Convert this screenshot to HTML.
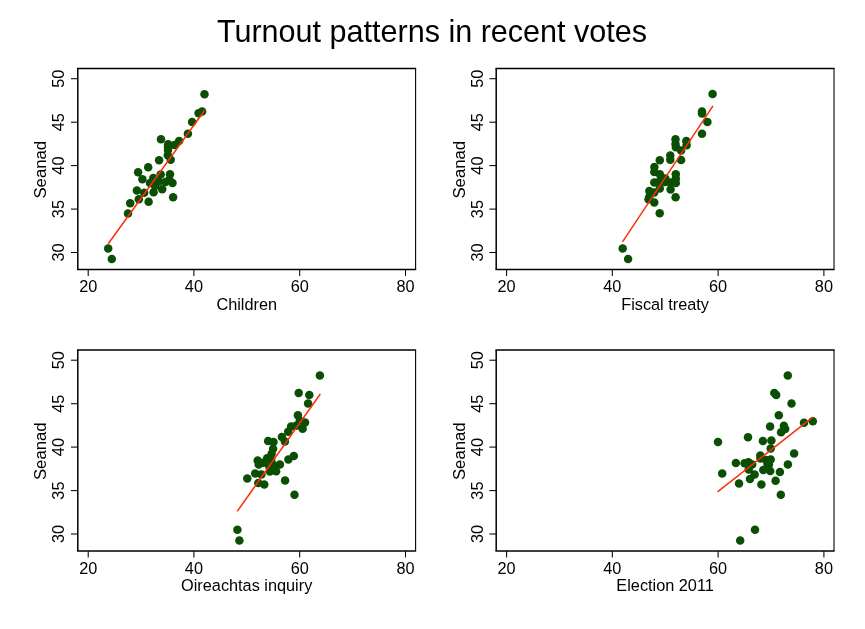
<!DOCTYPE html><html><head><meta charset="utf-8"><title>Turnout patterns in recent votes</title>
<style>html,body{margin:0;padding:0;background:#fff}svg{display:block}text{font-family:"Liberation Sans",Arial,Helvetica,sans-serif;fill:#000}</style></head><body>
<svg width="865" height="629" viewBox="0 0 865 629">
<rect width="865" height="629" fill="#fff"/>
<text x="432.0" y="41.6" font-size="30.55" text-anchor="middle">Turnout patterns in recent votes</text>
<g transform="translate(0,0)">
<circle cx="204.5" cy="94.2" r="4.25" fill="#0b4f05"/>
<circle cx="202.1" cy="111.5" r="4.25" fill="#0b4f05"/>
<circle cx="198.6" cy="113.3" r="4.25" fill="#0b4f05"/>
<circle cx="192.1" cy="122.1" r="4.25" fill="#0b4f05"/>
<circle cx="187.9" cy="133.8" r="4.25" fill="#0b4f05"/>
<circle cx="161.0" cy="139.2" r="4.25" fill="#0b4f05"/>
<circle cx="179.1" cy="140.9" r="4.25" fill="#0b4f05"/>
<circle cx="168.1" cy="144.2" r="4.25" fill="#0b4f05"/>
<circle cx="174.5" cy="144.9" r="4.25" fill="#0b4f05"/>
<circle cx="168.0" cy="147.0" r="4.25" fill="#0b4f05"/>
<circle cx="168.0" cy="150.1" r="4.25" fill="#0b4f05"/>
<circle cx="167.8" cy="155.3" r="4.25" fill="#0b4f05"/>
<circle cx="159.1" cy="160.3" r="4.25" fill="#0b4f05"/>
<circle cx="170.7" cy="159.8" r="4.25" fill="#0b4f05"/>
<circle cx="148.2" cy="167.2" r="4.25" fill="#0b4f05"/>
<circle cx="138.1" cy="172.2" r="4.25" fill="#0b4f05"/>
<circle cx="142.4" cy="179.3" r="4.25" fill="#0b4f05"/>
<circle cx="170.0" cy="174.2" r="4.25" fill="#0b4f05"/>
<circle cx="160.7" cy="174.4" r="4.25" fill="#0b4f05"/>
<circle cx="153.3" cy="178.1" r="4.25" fill="#0b4f05"/>
<circle cx="172.5" cy="183.1" r="4.25" fill="#0b4f05"/>
<circle cx="150.0" cy="182.9" r="4.25" fill="#0b4f05"/>
<circle cx="165.5" cy="182.0" r="4.25" fill="#0b4f05"/>
<circle cx="158.9" cy="181.6" r="4.25" fill="#0b4f05"/>
<circle cx="155.1" cy="185.9" r="4.25" fill="#0b4f05"/>
<circle cx="162.2" cy="189.3" r="4.25" fill="#0b4f05"/>
<circle cx="153.6" cy="192.2" r="4.25" fill="#0b4f05"/>
<circle cx="136.9" cy="190.4" r="4.25" fill="#0b4f05"/>
<circle cx="144.2" cy="192.7" r="4.25" fill="#0b4f05"/>
<circle cx="138.8" cy="199.3" r="4.25" fill="#0b4f05"/>
<circle cx="148.6" cy="201.7" r="4.25" fill="#0b4f05"/>
<circle cx="173.1" cy="197.2" r="4.25" fill="#0b4f05"/>
<circle cx="130.2" cy="203.3" r="4.25" fill="#0b4f05"/>
<circle cx="128.0" cy="213.4" r="4.25" fill="#0b4f05"/>
<circle cx="108.2" cy="248.4" r="4.25" fill="#0b4f05"/>
<circle cx="111.8" cy="259.0" r="4.25" fill="#0b4f05"/>
<circle cx="169.3" cy="179.8" r="4.25" fill="#0b4f05"/>
<line x1="108.2" y1="243.7" x2="204.7" y2="110.3" stroke="#fc2e0a" stroke-width="1.5"/>
<path d="M77.8 269.5V68.5" fill="none" stroke="#000" stroke-width="1.5"/>
<path d="M77.05 68.5H416.15000000000003M77.05 269.55H416.15000000000003" fill="none" stroke="#000" stroke-width="1.4"/>
<path d="M415.6 68.5V269.5" fill="none" stroke="#000" stroke-width="1.1"/>
<line x1="71.0" y1="252.5" x2="77.8" y2="252.5" stroke="#000" stroke-width="1.05"/>
<text transform="translate(64.1,252.5) rotate(-90)" font-size="16.3" text-anchor="middle">30</text>
<line x1="71.0" y1="209.1" x2="77.8" y2="209.1" stroke="#000" stroke-width="1.05"/>
<text transform="translate(64.1,209.1) rotate(-90)" font-size="16.3" text-anchor="middle">35</text>
<line x1="71.0" y1="165.6" x2="77.8" y2="165.6" stroke="#000" stroke-width="1.05"/>
<text transform="translate(64.1,165.6) rotate(-90)" font-size="16.3" text-anchor="middle">40</text>
<line x1="71.0" y1="122.2" x2="77.8" y2="122.2" stroke="#000" stroke-width="1.05"/>
<text transform="translate(64.1,122.2) rotate(-90)" font-size="16.3" text-anchor="middle">45</text>
<line x1="71.0" y1="78.7" x2="77.8" y2="78.7" stroke="#000" stroke-width="1.05"/>
<text transform="translate(64.1,78.7) rotate(-90)" font-size="16.3" text-anchor="middle">50</text>
<line x1="88.2" y1="269.5" x2="88.2" y2="275.9" stroke="#000" stroke-width="1.05"/>
<text x="88.2" y="292.35" font-size="16.3" text-anchor="middle">20</text>
<line x1="193.9" y1="269.5" x2="193.9" y2="275.9" stroke="#000" stroke-width="1.05"/>
<text x="193.9" y="292.35" font-size="16.3" text-anchor="middle">40</text>
<line x1="299.7" y1="269.5" x2="299.7" y2="275.9" stroke="#000" stroke-width="1.05"/>
<text x="299.7" y="292.35" font-size="16.3" text-anchor="middle">60</text>
<line x1="405.5" y1="269.5" x2="405.5" y2="275.9" stroke="#000" stroke-width="1.05"/>
<text x="405.5" y="292.35" font-size="16.3" text-anchor="middle">80</text>
<text transform="translate(46.199999999999996,169.7) rotate(-90)" font-size="16.75" text-anchor="middle">Seanad</text>
<text x="246.7" y="309.9" font-size="16.3" text-anchor="middle">Children</text>
</g>
<g transform="translate(418.4,0)">
<circle cx="294.2" cy="94.1" r="4.25" fill="#0b4f05"/>
<circle cx="283.6" cy="111.5" r="4.25" fill="#0b4f05"/>
<circle cx="283.6" cy="113.4" r="4.25" fill="#0b4f05"/>
<circle cx="289.0" cy="122.1" r="4.25" fill="#0b4f05"/>
<circle cx="283.6" cy="133.8" r="4.25" fill="#0b4f05"/>
<circle cx="257.1" cy="139.2" r="4.25" fill="#0b4f05"/>
<circle cx="267.9" cy="141.1" r="4.25" fill="#0b4f05"/>
<circle cx="257.1" cy="143.9" r="4.25" fill="#0b4f05"/>
<circle cx="257.5" cy="147.3" r="4.25" fill="#0b4f05"/>
<circle cx="268.2" cy="145.3" r="4.25" fill="#0b4f05"/>
<circle cx="262.7" cy="150.6" r="4.25" fill="#0b4f05"/>
<circle cx="251.9" cy="155.6" r="4.25" fill="#0b4f05"/>
<circle cx="251.9" cy="159.8" r="4.25" fill="#0b4f05"/>
<circle cx="262.7" cy="160.0" r="4.25" fill="#0b4f05"/>
<circle cx="241.4" cy="160.3" r="4.25" fill="#0b4f05"/>
<circle cx="236.0" cy="167.0" r="4.25" fill="#0b4f05"/>
<circle cx="235.9" cy="172.0" r="4.25" fill="#0b4f05"/>
<circle cx="241.4" cy="174.3" r="4.25" fill="#0b4f05"/>
<circle cx="257.4" cy="174.3" r="4.25" fill="#0b4f05"/>
<circle cx="246.9" cy="178.6" r="4.25" fill="#0b4f05"/>
<circle cx="235.9" cy="182.6" r="4.25" fill="#0b4f05"/>
<circle cx="241.4" cy="180.9" r="4.25" fill="#0b4f05"/>
<circle cx="251.9" cy="182.4" r="4.25" fill="#0b4f05"/>
<circle cx="257.4" cy="178.8" r="4.25" fill="#0b4f05"/>
<circle cx="257.4" cy="183.0" r="4.25" fill="#0b4f05"/>
<circle cx="252.2" cy="189.6" r="4.25" fill="#0b4f05"/>
<circle cx="241.4" cy="188.4" r="4.25" fill="#0b4f05"/>
<circle cx="231.0" cy="190.9" r="4.25" fill="#0b4f05"/>
<circle cx="235.8" cy="192.6" r="4.25" fill="#0b4f05"/>
<circle cx="231.0" cy="196.8" r="4.25" fill="#0b4f05"/>
<circle cx="257.2" cy="197.2" r="4.25" fill="#0b4f05"/>
<circle cx="230.1" cy="199.2" r="4.25" fill="#0b4f05"/>
<circle cx="235.9" cy="202.5" r="4.25" fill="#0b4f05"/>
<circle cx="241.3" cy="213.3" r="4.25" fill="#0b4f05"/>
<circle cx="204.3" cy="248.4" r="4.25" fill="#0b4f05"/>
<circle cx="209.7" cy="259.0" r="4.25" fill="#0b4f05"/>
<circle cx="246.7" cy="182.0" r="4.25" fill="#0b4f05"/>
<line x1="204.1" y1="241.85" x2="294.6" y2="105.8" stroke="#fc2e0a" stroke-width="1.5"/>
<path d="M77.8 269.5V68.5" fill="none" stroke="#000" stroke-width="1.5"/>
<path d="M77.05 68.5H416.15000000000003M77.05 269.55H416.15000000000003" fill="none" stroke="#000" stroke-width="1.4"/>
<path d="M415.6 68.5V269.5" fill="none" stroke="#000" stroke-width="1.1"/>
<line x1="71.0" y1="252.5" x2="77.8" y2="252.5" stroke="#000" stroke-width="1.05"/>
<text transform="translate(64.1,252.5) rotate(-90)" font-size="16.3" text-anchor="middle">30</text>
<line x1="71.0" y1="209.1" x2="77.8" y2="209.1" stroke="#000" stroke-width="1.05"/>
<text transform="translate(64.1,209.1) rotate(-90)" font-size="16.3" text-anchor="middle">35</text>
<line x1="71.0" y1="165.6" x2="77.8" y2="165.6" stroke="#000" stroke-width="1.05"/>
<text transform="translate(64.1,165.6) rotate(-90)" font-size="16.3" text-anchor="middle">40</text>
<line x1="71.0" y1="122.2" x2="77.8" y2="122.2" stroke="#000" stroke-width="1.05"/>
<text transform="translate(64.1,122.2) rotate(-90)" font-size="16.3" text-anchor="middle">45</text>
<line x1="71.0" y1="78.7" x2="77.8" y2="78.7" stroke="#000" stroke-width="1.05"/>
<text transform="translate(64.1,78.7) rotate(-90)" font-size="16.3" text-anchor="middle">50</text>
<line x1="88.2" y1="269.5" x2="88.2" y2="275.9" stroke="#000" stroke-width="1.05"/>
<text x="88.2" y="292.35" font-size="16.3" text-anchor="middle">20</text>
<line x1="193.9" y1="269.5" x2="193.9" y2="275.9" stroke="#000" stroke-width="1.05"/>
<text x="193.9" y="292.35" font-size="16.3" text-anchor="middle">40</text>
<line x1="299.7" y1="269.5" x2="299.7" y2="275.9" stroke="#000" stroke-width="1.05"/>
<text x="299.7" y="292.35" font-size="16.3" text-anchor="middle">60</text>
<line x1="405.5" y1="269.5" x2="405.5" y2="275.9" stroke="#000" stroke-width="1.05"/>
<text x="405.5" y="292.35" font-size="16.3" text-anchor="middle">80</text>
<text transform="translate(46.199999999999996,169.7) rotate(-90)" font-size="16.75" text-anchor="middle">Seanad</text>
<text x="246.7" y="309.9" font-size="16.3" text-anchor="middle">Fiscal treaty</text>
</g>
<g transform="translate(0,281.5)">
<circle cx="319.9" cy="94.1" r="4.25" fill="#0b4f05"/>
<circle cx="298.7" cy="111.6" r="4.25" fill="#0b4f05"/>
<circle cx="309.3" cy="113.4" r="4.25" fill="#0b4f05"/>
<circle cx="308.1" cy="122.1" r="4.25" fill="#0b4f05"/>
<circle cx="297.9" cy="133.8" r="4.25" fill="#0b4f05"/>
<circle cx="299.8" cy="139.2" r="4.25" fill="#0b4f05"/>
<circle cx="305.0" cy="141.1" r="4.25" fill="#0b4f05"/>
<circle cx="291.1" cy="144.9" r="4.25" fill="#0b4f05"/>
<circle cx="296.0" cy="144.2" r="4.25" fill="#0b4f05"/>
<circle cx="302.6" cy="147.3" r="4.25" fill="#0b4f05"/>
<circle cx="288.2" cy="150.3" r="4.25" fill="#0b4f05"/>
<circle cx="281.9" cy="155.5" r="4.25" fill="#0b4f05"/>
<circle cx="284.9" cy="159.9" r="4.25" fill="#0b4f05"/>
<circle cx="268.1" cy="159.5" r="4.25" fill="#0b4f05"/>
<circle cx="273.5" cy="160.4" r="4.25" fill="#0b4f05"/>
<circle cx="273.1" cy="167.2" r="4.25" fill="#0b4f05"/>
<circle cx="293.8" cy="174.4" r="4.25" fill="#0b4f05"/>
<circle cx="288.4" cy="178.1" r="4.25" fill="#0b4f05"/>
<circle cx="271.6" cy="172.3" r="4.25" fill="#0b4f05"/>
<circle cx="267.1" cy="176.7" r="4.25" fill="#0b4f05"/>
<circle cx="257.7" cy="179.1" r="4.25" fill="#0b4f05"/>
<circle cx="258.7" cy="183.1" r="4.25" fill="#0b4f05"/>
<circle cx="271.2" cy="178.7" r="4.25" fill="#0b4f05"/>
<circle cx="272.6" cy="182.9" r="4.25" fill="#0b4f05"/>
<circle cx="279.9" cy="182.9" r="4.25" fill="#0b4f05"/>
<circle cx="274.7" cy="186.3" r="4.25" fill="#0b4f05"/>
<circle cx="276.1" cy="189.7" r="4.25" fill="#0b4f05"/>
<circle cx="269.9" cy="190.1" r="4.25" fill="#0b4f05"/>
<circle cx="255.2" cy="191.9" r="4.25" fill="#0b4f05"/>
<circle cx="261.4" cy="192.9" r="4.25" fill="#0b4f05"/>
<circle cx="247.3" cy="196.9" r="4.25" fill="#0b4f05"/>
<circle cx="285.1" cy="198.9" r="4.25" fill="#0b4f05"/>
<circle cx="258.3" cy="201.6" r="4.25" fill="#0b4f05"/>
<circle cx="264.3" cy="203.0" r="4.25" fill="#0b4f05"/>
<circle cx="294.5" cy="213.2" r="4.25" fill="#0b4f05"/>
<circle cx="237.4" cy="248.3" r="4.25" fill="#0b4f05"/>
<circle cx="239.4" cy="259.0" r="4.25" fill="#0b4f05"/>
<circle cx="263.4" cy="181.3" r="4.25" fill="#0b4f05"/>
<circle cx="269.3" cy="184.9" r="4.25" fill="#0b4f05"/>
<line x1="237.2" y1="229.9" x2="320.3" y2="112.5" stroke="#fc2e0a" stroke-width="1.5"/>
<path d="M77.8 269.5V68.5" fill="none" stroke="#000" stroke-width="1.5"/>
<path d="M77.05 68.5H416.15000000000003M77.05 269.55H416.15000000000003" fill="none" stroke="#000" stroke-width="1.4"/>
<path d="M415.6 68.5V269.5" fill="none" stroke="#000" stroke-width="1.1"/>
<line x1="71.0" y1="252.5" x2="77.8" y2="252.5" stroke="#000" stroke-width="1.05"/>
<text transform="translate(64.1,252.5) rotate(-90)" font-size="16.3" text-anchor="middle">30</text>
<line x1="71.0" y1="209.1" x2="77.8" y2="209.1" stroke="#000" stroke-width="1.05"/>
<text transform="translate(64.1,209.1) rotate(-90)" font-size="16.3" text-anchor="middle">35</text>
<line x1="71.0" y1="165.6" x2="77.8" y2="165.6" stroke="#000" stroke-width="1.05"/>
<text transform="translate(64.1,165.6) rotate(-90)" font-size="16.3" text-anchor="middle">40</text>
<line x1="71.0" y1="122.2" x2="77.8" y2="122.2" stroke="#000" stroke-width="1.05"/>
<text transform="translate(64.1,122.2) rotate(-90)" font-size="16.3" text-anchor="middle">45</text>
<line x1="71.0" y1="78.7" x2="77.8" y2="78.7" stroke="#000" stroke-width="1.05"/>
<text transform="translate(64.1,78.7) rotate(-90)" font-size="16.3" text-anchor="middle">50</text>
<line x1="88.2" y1="269.5" x2="88.2" y2="275.9" stroke="#000" stroke-width="1.05"/>
<text x="88.2" y="292.35" font-size="16.3" text-anchor="middle">20</text>
<line x1="193.9" y1="269.5" x2="193.9" y2="275.9" stroke="#000" stroke-width="1.05"/>
<text x="193.9" y="292.35" font-size="16.3" text-anchor="middle">40</text>
<line x1="299.7" y1="269.5" x2="299.7" y2="275.9" stroke="#000" stroke-width="1.05"/>
<text x="299.7" y="292.35" font-size="16.3" text-anchor="middle">60</text>
<line x1="405.5" y1="269.5" x2="405.5" y2="275.9" stroke="#000" stroke-width="1.05"/>
<text x="405.5" y="292.35" font-size="16.3" text-anchor="middle">80</text>
<text transform="translate(46.199999999999996,169.7) rotate(-90)" font-size="16.75" text-anchor="middle">Seanad</text>
<text x="246.7" y="309.9" font-size="16.3" text-anchor="middle">Oireachtas inquiry</text>
</g>
<g transform="translate(418.4,281.5)">
<circle cx="369.4" cy="94.1" r="4.25" fill="#0b4f05"/>
<circle cx="355.9" cy="111.6" r="4.25" fill="#0b4f05"/>
<circle cx="357.8" cy="113.4" r="4.25" fill="#0b4f05"/>
<circle cx="373.1" cy="122.0" r="4.25" fill="#0b4f05"/>
<circle cx="360.4" cy="133.8" r="4.25" fill="#0b4f05"/>
<circle cx="394.4" cy="139.7" r="4.25" fill="#0b4f05"/>
<circle cx="385.6" cy="141.3" r="4.25" fill="#0b4f05"/>
<circle cx="351.7" cy="145.0" r="4.25" fill="#0b4f05"/>
<circle cx="365.5" cy="144.2" r="4.25" fill="#0b4f05"/>
<circle cx="366.8" cy="147.4" r="4.25" fill="#0b4f05"/>
<circle cx="362.7" cy="150.7" r="4.25" fill="#0b4f05"/>
<circle cx="329.6" cy="155.7" r="4.25" fill="#0b4f05"/>
<circle cx="299.6" cy="160.4" r="4.25" fill="#0b4f05"/>
<circle cx="344.5" cy="159.5" r="4.25" fill="#0b4f05"/>
<circle cx="353.0" cy="159.1" r="4.25" fill="#0b4f05"/>
<circle cx="352.3" cy="166.9" r="4.25" fill="#0b4f05"/>
<circle cx="375.7" cy="172.1" r="4.25" fill="#0b4f05"/>
<circle cx="341.9" cy="173.9" r="4.25" fill="#0b4f05"/>
<circle cx="342.1" cy="177.0" r="4.25" fill="#0b4f05"/>
<circle cx="317.5" cy="181.5" r="4.25" fill="#0b4f05"/>
<circle cx="326.2" cy="181.7" r="4.25" fill="#0b4f05"/>
<circle cx="330.0" cy="180.8" r="4.25" fill="#0b4f05"/>
<circle cx="333.8" cy="182.9" r="4.25" fill="#0b4f05"/>
<circle cx="352.3" cy="178.0" r="4.25" fill="#0b4f05"/>
<circle cx="347.7" cy="178.4" r="4.25" fill="#0b4f05"/>
<circle cx="349.1" cy="182.5" r="4.25" fill="#0b4f05"/>
<circle cx="350.5" cy="183.1" r="4.25" fill="#0b4f05"/>
<circle cx="330.3" cy="188.1" r="4.25" fill="#0b4f05"/>
<circle cx="336.2" cy="192.9" r="4.25" fill="#0b4f05"/>
<circle cx="344.9" cy="188.4" r="4.25" fill="#0b4f05"/>
<circle cx="351.8" cy="189.5" r="4.25" fill="#0b4f05"/>
<circle cx="361.5" cy="190.5" r="4.25" fill="#0b4f05"/>
<circle cx="369.5" cy="182.9" r="4.25" fill="#0b4f05"/>
<circle cx="331.6" cy="197.4" r="4.25" fill="#0b4f05"/>
<circle cx="357.2" cy="199.2" r="4.25" fill="#0b4f05"/>
<circle cx="320.6" cy="202.0" r="4.25" fill="#0b4f05"/>
<circle cx="343.0" cy="202.9" r="4.25" fill="#0b4f05"/>
<circle cx="303.8" cy="192.1" r="4.25" fill="#0b4f05"/>
<circle cx="362.4" cy="213.3" r="4.25" fill="#0b4f05"/>
<circle cx="336.6" cy="248.3" r="4.25" fill="#0b4f05"/>
<circle cx="321.8" cy="259.0" r="4.25" fill="#0b4f05"/>
<line x1="299.1" y1="210.4" x2="394.4" y2="135.6" stroke="#fc2e0a" stroke-width="1.5"/>
<path d="M77.8 269.5V68.5" fill="none" stroke="#000" stroke-width="1.5"/>
<path d="M77.05 68.5H416.15000000000003M77.05 269.55H416.15000000000003" fill="none" stroke="#000" stroke-width="1.4"/>
<path d="M415.6 68.5V269.5" fill="none" stroke="#000" stroke-width="1.1"/>
<line x1="71.0" y1="252.5" x2="77.8" y2="252.5" stroke="#000" stroke-width="1.05"/>
<text transform="translate(64.1,252.5) rotate(-90)" font-size="16.3" text-anchor="middle">30</text>
<line x1="71.0" y1="209.1" x2="77.8" y2="209.1" stroke="#000" stroke-width="1.05"/>
<text transform="translate(64.1,209.1) rotate(-90)" font-size="16.3" text-anchor="middle">35</text>
<line x1="71.0" y1="165.6" x2="77.8" y2="165.6" stroke="#000" stroke-width="1.05"/>
<text transform="translate(64.1,165.6) rotate(-90)" font-size="16.3" text-anchor="middle">40</text>
<line x1="71.0" y1="122.2" x2="77.8" y2="122.2" stroke="#000" stroke-width="1.05"/>
<text transform="translate(64.1,122.2) rotate(-90)" font-size="16.3" text-anchor="middle">45</text>
<line x1="71.0" y1="78.7" x2="77.8" y2="78.7" stroke="#000" stroke-width="1.05"/>
<text transform="translate(64.1,78.7) rotate(-90)" font-size="16.3" text-anchor="middle">50</text>
<line x1="88.2" y1="269.5" x2="88.2" y2="275.9" stroke="#000" stroke-width="1.05"/>
<text x="88.2" y="292.35" font-size="16.3" text-anchor="middle">20</text>
<line x1="193.9" y1="269.5" x2="193.9" y2="275.9" stroke="#000" stroke-width="1.05"/>
<text x="193.9" y="292.35" font-size="16.3" text-anchor="middle">40</text>
<line x1="299.7" y1="269.5" x2="299.7" y2="275.9" stroke="#000" stroke-width="1.05"/>
<text x="299.7" y="292.35" font-size="16.3" text-anchor="middle">60</text>
<line x1="405.5" y1="269.5" x2="405.5" y2="275.9" stroke="#000" stroke-width="1.05"/>
<text x="405.5" y="292.35" font-size="16.3" text-anchor="middle">80</text>
<text transform="translate(46.199999999999996,169.7) rotate(-90)" font-size="16.75" text-anchor="middle">Seanad</text>
<text x="246.7" y="309.9" font-size="16.3" text-anchor="middle">Election 2011</text>
</g>
</svg></body></html>
